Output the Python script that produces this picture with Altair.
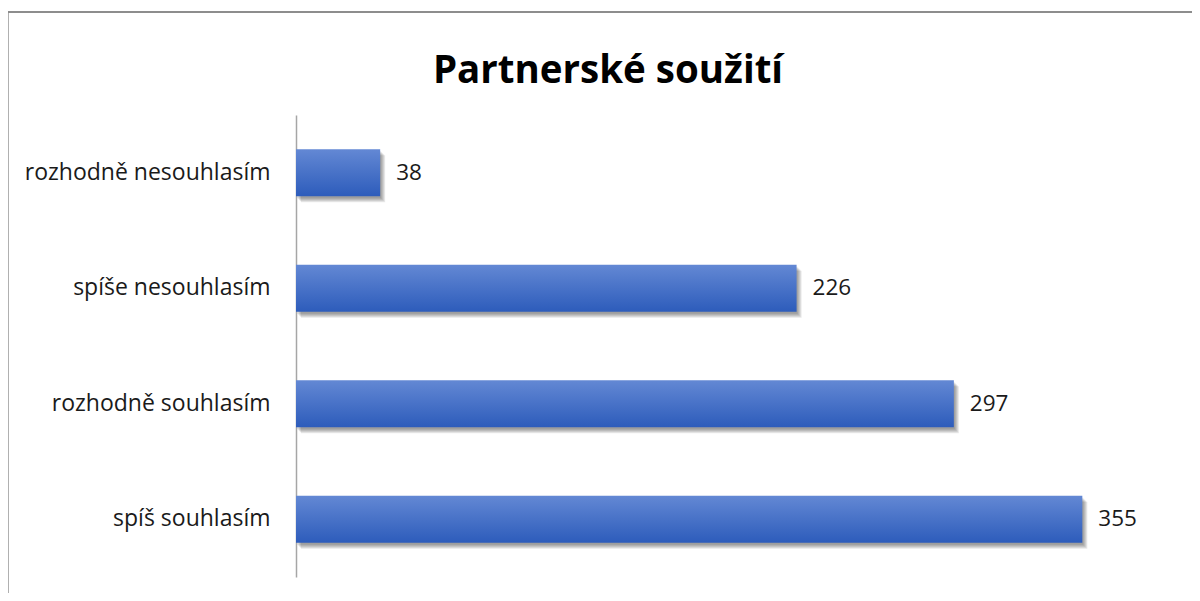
import altair as alt
import pandas as pd

categories = ["rozhodně nesouhlasím", "spíše nesouhlasím", "rozhodně souhlasím", "spíš souhlasím"]
values = [38, 226, 297, 355]
title_text = ["Partnerské soužití"]

df = pd.DataFrame({"kat": categories, "pocet": values})
df_title = pd.DataFrame({"t": title_text})

FONT = "Open Sans"
W, H = 886, 462

y_enc = alt.Y("kat:N", sort=categories, title=None,
              scale=alt.Scale(paddingInner=0.593, paddingOuter=0.2965),
              axis=alt.Axis(ticks=False, domainColor="#a6a6a6", domainWidth=1.5,
                            labelFont=FONT, labelFontSize=23, labelColor="#1a1a1a",
                            labelPadding=26, labelLimit=400))
x_enc = alt.X("pocet:Q", title=None, scale=alt.Scale(domain=[0, 400]), axis=None)

base = alt.Chart(df)

shadows = [
    base.mark_bar(color="#000000", opacity=0.09, xOffset=dx, x2Offset=dx, yOffset=dy, y2Offset=dy)
    .encode(x=x_enc, x2=alt.datum(0), y=y_enc)
    for dx, dy in [(1, 2), (2, 3), (3, 4), (4, 5), (5, 6)]
]

bars = base.mark_bar(
    color=alt.Gradient(
        gradient="linear",
        stops=[alt.GradientStop(color="#6388D4", offset=0),
               alt.GradientStop(color="#2D5CBB", offset=1)],
        x1=0, x2=0, y1=0, y2=1,
    )
).encode(x=x_enc, x2=alt.datum(0), y=y_enc)

labels = base.mark_text(align="left", baseline="middle", dx=16, font=FONT,
                        fontSize=22.5, color="#1a1a1a").encode(
    x=x_enc, y=y_enc, text=alt.Text("pocet:Q"))

title = alt.Chart(df_title).mark_text(
    font=FONT, fontSize=38.5, fontWeight="bold", color="#000000",
    align="center", baseline="alphabetic").encode(
    x=alt.value(312), y=alt.value(-32), text="t:N")

border_left = base.mark_rule(color="#8c8c8c", strokeWidth=1.5).encode(
    x=alt.value(-288.5), y=alt.value(-103), y2=alt.value(500))
border_top = base.mark_rule(color="#8c8c8c", strokeWidth=1.5).encode(
    x=alt.value(-288.5), x2=alt.value(920), y=alt.value(-103))

chart = alt.layer(border_left, border_top, *shadows, bars, labels, title).properties(
    width=W, height=H,
    padding={"left": 288, "top": 107, "right": 10, "bottom": 16},
    autosize=alt.AutoSizeParams(type="none"),
).configure_view(stroke=None)

chart.save("out.html", embed_options={"renderer": "svg", "actions": False})
